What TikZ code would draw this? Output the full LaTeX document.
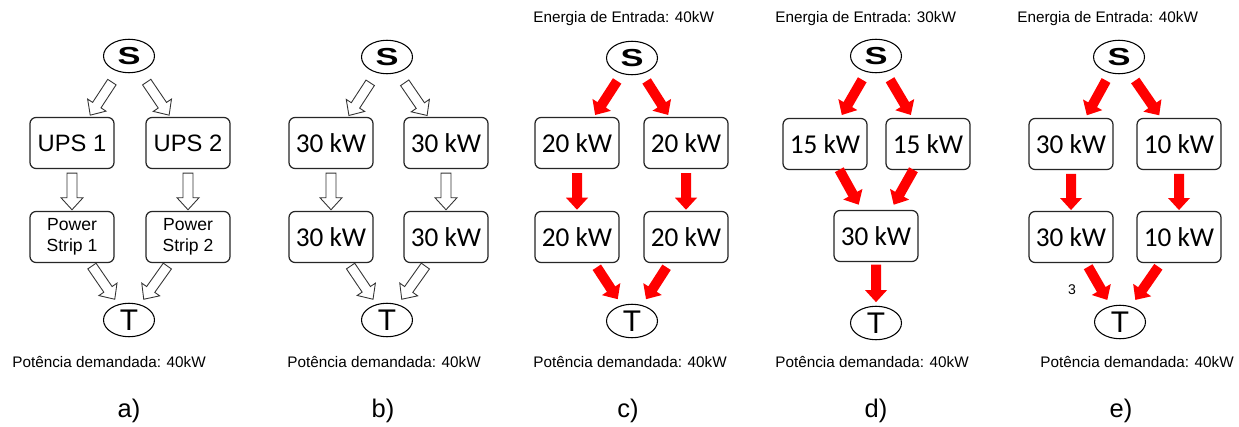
\documentclass[tikz,border=0pt]{standalone}
\usepackage{fontspec}
\setmainfont{Liberation Sans}
\newfontfamily\calfont{Carlito}
\usetikzlibrary{calc,shapes.geometric}
\definecolor{flowred}{HTML}{FF0000}

% block arrow between two nodes, tail/tip given as fractions of the centre line
\newcommand\blockarrow[5][hollow]{%
  \coordinate (ba-s) at ($(#2)!#4!(#3)$);
  \coordinate (ba-e) at ($(#2)!#5!(#3)$);
  \coordinate (ba-h) at ($(ba-e)!0.24cm!(ba-s)$);
  \path[#1] ($(ba-s)!0.1cm!90:(ba-e)$) -- ($(ba-h)!0.1cm!90:(ba-e)$)
    -- ($(ba-h)!0.22cm!90:(ba-e)$) -- (ba-e)
    -- ($(ba-h)!0.22cm!-90:(ba-e)$) -- ($(ba-h)!0.1cm!-90:(ba-e)$)
    -- ($(ba-s)!0.1cm!-90:(ba-e)$) -- cycle;}

\begin{document}
\begin{tikzpicture}[x=0.02cm, y=-0.02cm,
    box/.style={rectangle,draw=black!85,line width=0.7pt,fill=white,
                rounded corners=0.12cm,minimum width=1.68cm,minimum height=1.02cm,inner sep=1pt},
    kw/.style={box,font=\calfont\fontsize{15.5}{18}\selectfont},
    ups/.style={box,font=\fontsize{13.5}{16}\selectfont},
    strip/.style={box,align=center,font=\fontsize{10}{12}\selectfont},
    term/.style={ellipse,draw=black,line width=0.6pt,fill=white,
                 minimum width=1.02cm,minimum height=0.67cm,inner sep=0pt},
    src/.style={term,font=\fontsize{14}{14}\selectfont\bfseries},
    snk/.style={term,font=\fontsize{17}{17}\selectfont},
    hollow/.style={draw=black!80,line width=0.5pt,fill=white},
    flow/.style={fill=flowred},
    note/.style={anchor=base west,inner sep=0pt,font=\fontsize{8.7}{10}\selectfont},
    tag/.style={anchor=base,font=\fontsize{14.5}{16}\selectfont}]

  \path[fill=white,use as bounding box] (0,0) rectangle (1239,426);

  % a)
  \node[src]   (sa)  at (129,56)  {\scalebox{1.4}[1]{S}};
  \node[ups]   (ua1) at (72,143)  {UPS 1};
  \node[ups]   (ua2) at (188,143) {UPS 2};
  \node[strip] (pa1) at (72,237)  {Power\\Strip 1};
  \node[strip] (pa2) at (188,237) {Power\\Strip 2};
  \node[snk]   (ta)  at (129,320) {T};
  \blockarrow{sa}{ua1}{0.3}{0.68}
  \blockarrow{sa}{ua2}{0.3}{0.68}
  \blockarrow{ua1}{pa1}{0.32}{0.71}
  \blockarrow{ua2}{pa2}{0.32}{0.71}
  \blockarrow{pa1}{ta}{0.35}{0.75}
  \blockarrow{pa2}{ta}{0.35}{0.75}
  \node[note] (da) at (12,367) {Potência demandada: 40kW};
  \node[tag]  (la) at (129,417) {a)};

  % b)
  \node[src] (sb)  at (387,57)  {\scalebox{1.4}[1]{S}};
  \node[kw]  (ub1) at (331,143) {30 kW};
  \node[kw]  (ub2) at (446,143) {30 kW};
  \node[kw]  (lb1) at (331,237) {30 kW};
  \node[kw]  (lb2) at (446,237) {30 kW};
  \node[snk] (tb)  at (387,320) {T};
  \blockarrow{sb}{ub1}{0.3}{0.68}
  \blockarrow{sb}{ub2}{0.3}{0.68}
  \blockarrow{ub1}{lb1}{0.32}{0.71}
  \blockarrow{ub2}{lb2}{0.32}{0.71}
  \blockarrow{lb1}{tb}{0.35}{0.75}
  \blockarrow{lb2}{tb}{0.35}{0.75}
  \node[note] (db) at (287,367) {Potência demandada: 40kW};
  \node[tag]  (lb) at (383,417) {b)};

  % c)
  \node[note] (ec) at (533,22) {Energia de Entrada: 40kW};
  \node[src] (sc)  at (632,58)  {\scalebox{1.4}[1]{S}};
  \node[kw]  (uc1) at (577,143) {20 kW};
  \node[kw]  (uc2) at (686,143) {20 kW};
  \node[kw]  (lc1) at (577,237) {20 kW};
  \node[kw]  (lc2) at (686,237) {20 kW};
  \node[snk] (tc)  at (632,321) {T};
  \blockarrow[flow]{sc}{uc1}{0.27}{0.67}
  \blockarrow[flow]{sc}{uc2}{0.27}{0.67}
  \blockarrow[flow]{uc1}{lc1}{0.32}{0.71}
  \blockarrow[flow]{uc2}{lc2}{0.32}{0.71}
  \blockarrow[flow]{lc1}{tc}{0.36}{0.74}
  \blockarrow[flow]{lc2}{tc}{0.36}{0.74}
  \node[note] (dc) at (533,367) {Potência demandada: 40kW};
  \node[tag]  (lc) at (628,417) {c)};

  % d)
  \node[note] (ed) at (775,22) {Energia de Entrada: 30kW};
  \node[src] (sd)  at (876,56)  {\scalebox{1.4}[1]{S}};
  \node[kw]  (ud1) at (825,144) {15 kW};
  \node[kw]  (ud2) at (928,144) {15 kW};
  \node[kw]  (ld)  at (876,236) {30 kW};
  \node[snk] (td)  at (876,323) {T};
  \blockarrow[flow]{sd}{ud1}{0.27}{0.67}
  \blockarrow[flow]{sd}{ud2}{0.27}{0.67}
  \blockarrow[flow]{ud1}{ld}{0.28}{0.66}
  \blockarrow[flow]{ud2}{ld}{0.28}{0.66}
  \blockarrow[flow]{ld}{td}{0.33}{0.76}
  \node[note] (dd) at (775,367) {Potência demandada: 40kW};
  \node[tag]  (ldd) at (876,417) {d)};

  % e)
  \node[note] (ee) at (1017,22) {Energia de Entrada: 40kW};
  \node[src] (se)  at (1119,57)  {\scalebox{1.4}[1]{S}};
  \node[kw]  (ue1) at (1071,144) {30 kW};
  \node[kw]  (ue2) at (1179,144) {10 kW};
  \node[kw]  (le1) at (1071,237) {30 kW};
  \node[kw]  (le2) at (1179,237) {10 kW};
  \node[snk] (te)  at (1120,322) {T};
  \blockarrow[flow]{se}{ue1}{0.27}{0.67}
  \blockarrow[flow]{se}{ue2}{0.27}{0.67}
  \blockarrow[flow]{ue1}{le1}{0.32}{0.71}
  \blockarrow[flow]{ue2}{le2}{0.32}{0.71}
  \blockarrow[flow]{le1}{te}{0.35}{0.74}
  \blockarrow[flow]{le2}{te}{0.35}{0.74}
  \node[font=\fontsize{8}{9}\selectfont] (n3) at (1072,290) {3};
  \node[note] (de) at (1040,367) {Potência demandada: 40kW};
  \node[tag]  (le) at (1121,417) {e)};
\end{tikzpicture}
\end{document}
